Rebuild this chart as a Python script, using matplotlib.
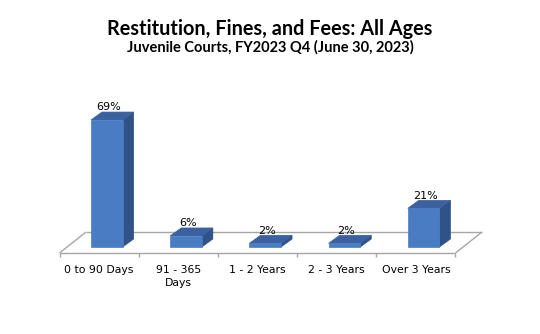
import matplotlib.pyplot as plt
from matplotlib.patches import Polygon

# aging buckets and share of outstanding balance (%)
categories = ["0 to 90 Days", "91 - 365\nDays", "1 - 2 Years", "2 - 3 Years", "Over 3 Years"]
shares = [69, 6, 2, 2, 21]
value_labels = ["69%", "6%", "2%", "2%", "21%"]

FRONT = "#4A7CC4"
TOP = "#3B61A0"
SIDE = "#2F5288"
FLOOR = "#A6A6A6"

W, H, DPI = 540, 334, 100
fig = plt.figure(figsize=(W / DPI, H / DPI), dpi=DPI)
fig.patch.set_facecolor("white")

# plot plane sits at the middle of the floor depth
ymax = 80
ax = fig.add_axes([68 / W, 87 / H, 396 / W, 147.2 / H])
ax.set_xlim(0, len(categories))
ax.set_ylim(0, ymax)
ax.axis("off")

# pixel -> data conversion for the oblique depth offsets
px_x = 396 / len(categories)
px_y = 147.2 / ymax


def off(dx_px, dy_px):
    return dx_px / px_x, dy_px / px_y


def poly(pts, color, **kw):
    ax.add_patch(Polygon(pts, closed=True, facecolor=color, edgecolor=color,
                         lw=0.5, clip_on=False, **kw))


# floor outline
fx, fy = off(-8.5, -6)
bx, by = off(18, 15)
n = len(categories)
floor_line = dict(color=FLOOR, lw=1, clip_on=False, solid_capstyle="butt")
ax.plot([fx, fx + n], [fy, fy], **floor_line)
ax.plot([bx, bx + n], [by, by], **floor_line)
ax.plot([fx, bx], [fy, by], **floor_line)
ax.plot([fx + n, bx + n], [fy, by], **floor_line)
tick_dy = 4 / px_y
for i in range(n + 1):
    ax.plot([fx + i, fx + i], [fy, fy - tick_dy], **floor_line)

# 3D-looking bars
bw = 0.40
ddx, ddy = off(11, 8)
for i, v in enumerate(shares):
    x0 = i + 0.49 - bw / 2
    x1 = x0 + bw
    poly([(x1, 0), (x1 + ddx, ddy), (x1 + ddx, v + ddy), (x1, v)], SIDE, zorder=3)
    poly([(x0, v), (x1, v), (x1 + ddx, v + ddy), (x0 + ddx, v + ddy)], TOP, zorder=3)
    poly([(x0, 0), (x1, 0), (x1, v), (x0, v)], FRONT, zorder=4)
    ax.annotate(value_labels[i], (i + 0.49 + ddx / 2, v), xytext=(-2.5, 5.5),
                textcoords="offset points", ha="center", va="bottom",
                fontsize=8, family="DejaVu Sans", annotation_clip=False)

# category labels under the front edge
for i, lab in enumerate(categories):
    ax.annotate(lab, (fx + i + 0.5, fy), xytext=(0, -8.5), textcoords="offset points",
                ha="center", va="top", fontsize=7.8, family="DejaVu Sans",
                linespacing=1.35, annotation_clip=False)

fig.text(0.5, 1 - 29 / H, "Restitution, Fines, and Fees: All Ages", ha="center",
         va="center", fontsize=14.3, fontweight="bold", family="Lato")
fig.text(0.5, 1 - 47 / H, "Juvenile Courts, FY2023 Q4 (June 30, 2023)", ha="center",
         va="center", fontsize=10.5, fontweight="bold", family="Lato")

fig.savefig("out.png", dpi=DPI)
